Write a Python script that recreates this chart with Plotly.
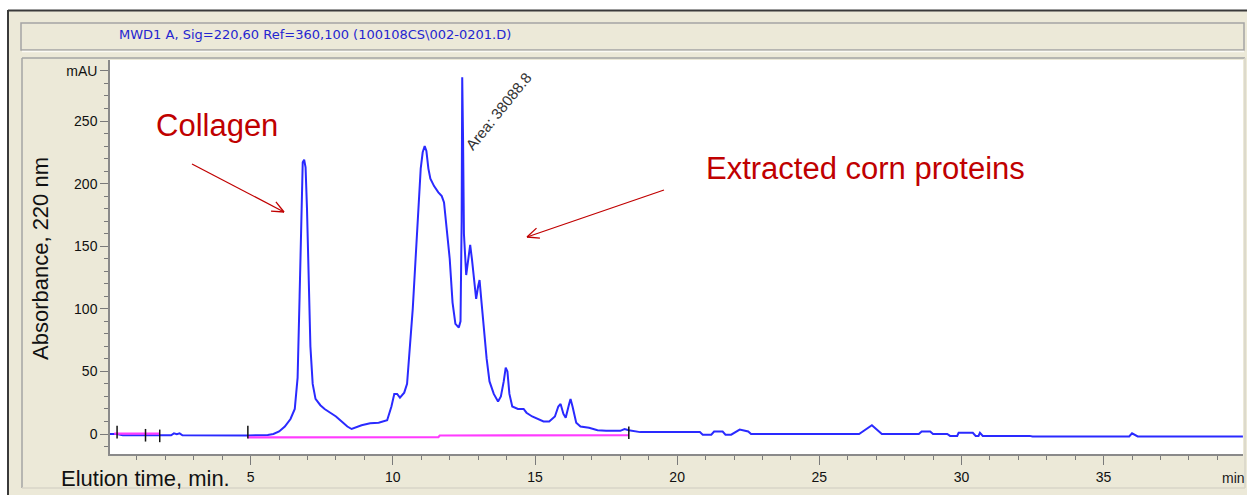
import math
import plotly.graph_objects as go

# ---------------- data ----------------
time_min = [0.05, 0.3, 0.5, 0.7, 0.9, 1.3, 1.8, 2.2, 2.3, 2.4, 2.5, 2.6, 4.9, 5.3, 5.6,
            5.8, 6.0, 6.2, 6.4, 6.55, 6.65, 6.72, 6.78, 6.83, 6.88, 6.93, 6.98, 7.04,
            7.1, 7.18, 7.28, 7.45, 7.6, 7.8, 8.0, 8.2, 8.4, 8.55, 8.7, 8.9, 9.2, 9.5,
            9.8, 9.95, 10.05, 10.15, 10.25, 10.4, 10.5, 10.6, 10.7, 10.8, 10.9, 10.98,
            11.05, 11.12, 11.18, 11.25, 11.32, 11.45, 11.6, 11.72, 11.8, 11.9, 12.0,
            12.1, 12.2, 12.32, 12.38, 12.42, 12.44, 12.47, 12.5, 12.58, 12.65, 12.72,
            12.78, 12.85, 12.93, 13.0, 13.05, 13.12, 13.2, 13.3, 13.4, 13.55, 13.7,
            13.8, 13.9, 13.97, 14.03, 14.1, 14.2, 14.4, 14.6, 14.7, 14.9, 15.1, 15.3,
            15.5, 15.7, 15.82, 15.9, 16.0, 16.08, 16.2, 16.25, 16.32, 16.45, 16.6,
            16.9, 17.2, 17.5, 18.0, 18.15, 18.3, 18.7, 20.8, 20.9, 21.2, 21.3, 21.6,
            21.7, 21.9, 22.2, 22.5, 22.6, 26.4, 26.85, 27.2, 28.5, 28.6, 28.9, 29.0,
            29.5, 29.6, 29.85, 29.9, 30.4, 30.5, 30.6, 30.65, 30.75, 32.4, 32.5, 35.9,
            36.0, 36.2, 39.9]
absorbance_mau = [0, 0, -1, -1, -1, -0.8, -1, -1, 0.5, -0.2, 0.5, -1, -1.2, -1.3, -0.8,
                  0, 2, 6, 12, 20, 45, 110, 185, 217, 219, 213, 180, 120,
                  70, 40, 28, 23, 20, 17, 14, 10, 6, 4, 5.5, 7, 8.5, 9,
                  11, 22, 32, 32, 29, 33, 40, 70, 100, 140, 185, 212,
                  225, 230, 226, 212, 204, 198, 193, 190, 185, 160, 140,
                  105, 88, 85, 90, 170, 285, 235, 160, 127, 140, 151,
                  140, 125, 108, 118, 123, 105, 85, 60, 42, 32, 26,
                  30, 42, 53, 50, 32, 22, 20, 20, 17, 14, 12, 10,
                  10, 14, 22, 24, 16, 13, 24, 28, 22, 9, 6,
                  5, 3, 2.5, 2.5, 4, 3, 1.5, 1.5, -0.5, -0.5, 2, 2,
                  -0.5, -0.5, 3.5, 2, 0, 0, 7, 0, 0, 2, 2, 0,
                  0, -1.5, -1.5, 1, 1, -1.5, -1.5, 1, -1.5, -1.5, -2, -2,
                  0.5, -2, -2]

baseline_time = [0.2, 1.8, None, 4.9, 11.6, 11.65, 18.3]
baseline_mau = [0.3, 0.3, None, -2.7, -2.6, -1.2, -1.0]

event_time = [0.3, 1.3, 1.8, 4.9, 18.3]
event_mau = [1.5, -1.0, -1.5, 1.5, 1.0]

x_tick_vals = [5, 10, 15, 20, 25, 30, 35]
x_tick_text = ["5", "10", "15", "20", "25", "30", "35"]
y_tick_vals = [0, 50, 100, 150, 200, 250, 290]
y_tick_text = ["0", "50", "100", "150", "200", "250", "mAU"]

# ---------------- layout helpers (pixel -> paper) ----------------
W_FIG, H_FIG = 1247, 495
L, R, T, B = 110, 1243, 60, 454
PW, PH = R - L, B - T


def px(x):
    return (x - L) / PW


def py(y):
    return (B - y) / PH


BEIGE = "#ECE9D8"
GRAY = "#a4a4a4"
RED = "#c00000"
FONT = "Liberation Sans, Arial, sans-serif"

fig = go.Figure()

fig.add_trace(go.Scatter(x=time_min, y=absorbance_mau, mode="lines",
                         line=dict(color="#2a2aff", width=2), hoverinfo="skip",
                         showlegend=False))
fig.add_trace(go.Scatter(x=baseline_time, y=baseline_mau, mode="lines",
                         line=dict(color="#ff3cff", width=2.2), connectgaps=False,
                         hoverinfo="skip", showlegend=False))
fig.add_trace(go.Scatter(x=event_time, y=event_mau, mode="markers",
                         marker=dict(symbol="line-ns", size=9,
                                     line=dict(color="#111111", width=1.5)),
                         hoverinfo="skip", showlegend=False))

shapes = []
# window frame pieces
shapes.append(dict(type="rect", xref="paper", yref="paper", layer="below",
                   x0=px(0), x1=px(W_FIG), y0=py(0), y1=py(10),
                   fillcolor="white", line=dict(width=0)))
shapes.append(dict(type="rect", xref="paper", yref="paper", layer="below",
                   x0=px(0), x1=px(8), y0=py(0), y1=py(H_FIG),
                   fillcolor="white", line=dict(width=0)))
shapes.append(dict(type="line", xref="paper", yref="paper",
                   x0=px(8), x1=px(W_FIG), y0=py(10.5), y1=py(10.5),
                   line=dict(color="#3a3a3a", width=2)))
shapes.append(dict(type="line", xref="paper", yref="paper",
                   x0=px(8), x1=px(8), y0=py(10), y1=py(H_FIG),
                   line=dict(color="#3a3a3a", width=2)))
# title box
shapes.append(dict(type="rect", xref="paper", yref="paper", layer="below",
                   x0=px(21), x1=px(1244), y0=py(23), y1=py(50),
                   fillcolor=BEIGE, line=dict(color=GRAY, width=1.5)))
shapes.append(dict(type="line", xref="paper", yref="paper",
                   x0=px(22), x1=px(1244), y0=py(51.5), y1=py(51.5),
                   line=dict(color="#fbfaf4", width=1.5)))
# plot frame
shapes.append(dict(type="line", xref="paper", yref="paper",
                   x0=px(22), x1=px(1245), y0=py(58), y1=py(58),
                   line=dict(color=GRAY, width=1.5)))
shapes.append(dict(type="line", xref="paper", yref="paper",
                   x0=px(22), x1=px(22), y0=py(58), y1=py(488),
                   line=dict(color=GRAY, width=1.5)))
shapes.append(dict(type="line", xref="paper", yref="paper",
                   x0=px(22), x1=px(1245), y0=py(488), y1=py(488),
                   line=dict(color="#d8d5c8", width=1.5)))
shapes.append(dict(type="line", xref="paper", yref="paper",
                   x0=px(1245), x1=px(1245), y0=py(58), y1=py(488),
                   line=dict(color="#d8d5c8", width=1.5)))


def arrow(tail, head, color=RED, length=13, spread=24):
    out = [dict(type="line", xref="paper", yref="paper",
                x0=px(tail[0]), y0=py(tail[1]), x1=px(head[0]), y1=py(head[1]),
                line=dict(color=color, width=1.3))]
    ang = math.atan2(head[1] - tail[1], head[0] - tail[0])
    for s in (-1, 1):
        a = ang + math.pi + s * math.radians(spread)
        wx, wy = head[0] + length * math.cos(a), head[1] + length * math.sin(a)
        out.append(dict(type="line", xref="paper", yref="paper",
                        x0=px(head[0]), y0=py(head[1]), x1=px(wx), y1=py(wy),
                        line=dict(color=color, width=1.3)))
    return out


shapes += arrow((192, 164), (284, 212))
shapes += arrow((664, 190), (527, 237))

annotations = [
    dict(text="MWD1 A, Sig=220,60 Ref=360,100 (100108CS\\002-0201.D)",
         xref="paper", yref="paper", x=px(315), y=py(35), showarrow=False,
         font=dict(family="DejaVu Sans, sans-serif", size=13, color="#2525d0"),
         xanchor="center", yanchor="middle"),
    dict(text="Collagen", xref="paper", yref="paper", x=px(217), y=py(126),
         showarrow=False, font=dict(family=FONT, size=31, color=RED),
         xanchor="center", yanchor="middle"),
    dict(text="Extracted corn proteins", xref="paper", yref="paper", x=px(865),
         y=py(168), showarrow=False, font=dict(family=FONT, size=31, color=RED),
         xanchor="center", yanchor="middle"),
    dict(text="Area: 38088.8", xref="paper", yref="paper", x=px(498), y=py(111),
         showarrow=False, textangle=-51,
         font=dict(family=FONT, size=15, color="#333333"),
         xanchor="center", yanchor="middle"),
    dict(text="Absorbance, 220 nm", xref="paper", yref="paper", x=px(40),
         y=py(259), showarrow=False, textangle=-90,
         font=dict(family=FONT, size=22, color="#111111"),
         xanchor="center", yanchor="middle"),
    dict(text="Elution time, min.", xref="paper", yref="paper", x=px(145),
         y=py(478), showarrow=False,
         font=dict(family=FONT, size=22, color="#111111"),
         xanchor="center", yanchor="middle"),
    dict(text="min", xref="paper", yref="paper", x=px(1233), y=py(478),
         showarrow=False, font=dict(family=FONT, size=14, color="#1a1a1a"),
         xanchor="center", yanchor="middle"),
]

x0_min = 5 - (250.7 - L) / 28.43
x1_min = 5 + (R - 250.7) / 28.43
y0_mau = -(B - 434) / 1.252
y1_mau = y0_mau + PH / 1.252

fig.update_layout(
    width=W_FIG, height=H_FIG,
    margin=dict(l=L, r=W_FIG - R, t=T, b=H_FIG - B, pad=0),
    paper_bgcolor=BEIGE, plot_bgcolor="white",
    showlegend=False,
    shapes=shapes, annotations=annotations,
    xaxis=dict(range=[x0_min, x1_min], showgrid=False, zeroline=False,
               showline=True, linecolor="#8a8a8a", linewidth=1.5,
               tickmode="array", tickvals=x_tick_vals, ticktext=x_tick_text,
               ticks="outside", ticklen=9, tickwidth=1.3, tickcolor="#7a7a7a",
               tickfont=dict(family=FONT, size=14, color="#111111"),
               minor=dict(tickmode="linear", tick0=0, dtick=1, ticks="outside",
                          ticklen=4, tickwidth=1.3, tickcolor="#7a7a7a"),
               fixedrange=True),
    yaxis=dict(range=[y0_mau, y1_mau], showgrid=False, zeroline=False,
               showline=True, linecolor="#8a8a8a", linewidth=1.5,
               tickmode="array", tickvals=y_tick_vals, ticktext=y_tick_text,
               ticks="outside", ticklen=8, tickwidth=1.3, tickcolor="#7a7a7a",
               tickfont=dict(family=FONT, size=14, color="#111111"),
               minor=dict(tickmode="linear", tick0=0, dtick=10, ticks="outside",
                          ticklen=4, tickwidth=1.3, tickcolor="#7a7a7a"),
               fixedrange=True),
)

fig.write_html("out.html")
